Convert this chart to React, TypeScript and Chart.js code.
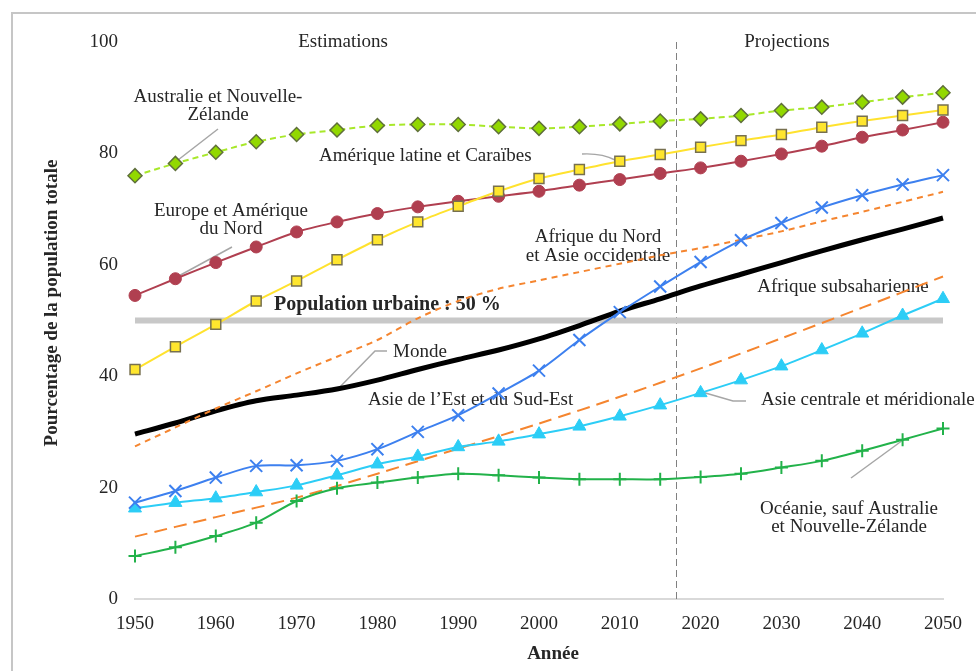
import React, { useEffect, useRef } from "react";
import { Chart, registerables } from "chart.js";

Chart.register(...registerables);

const years5 = [1950, 1955, 1960, 1965, 1970, 1975, 1980, 1985, 1990, 1995, 2000, 2005, 2010, 2015, 2020, 2025, 2030, 2035, 2040, 2045, 2050];
const years10 = [1950, 1960, 1970, 1980, 1990, 2000, 2010, 2020, 2030, 2040, 2050];

const australieNZ = [76.0, 78.2, 80.2, 82.1, 83.4, 84.2, 85.0, 85.2, 85.2, 84.8, 84.5, 84.8, 85.3, 85.8, 86.2, 86.8, 87.7, 88.3, 89.2, 90.1, 90.9];
const ameriqueLatine = [41.2, 45.3, 49.3, 53.5, 57.1, 60.9, 64.5, 67.7, 70.5, 73.2, 75.5, 77.1, 78.6, 79.8, 81.1, 82.3, 83.4, 84.7, 85.8, 86.8, 87.8];
const europeAmNord = [54.5, 57.5, 60.4, 63.2, 65.9, 67.7, 69.2, 70.4, 71.4, 72.3, 73.2, 74.3, 75.3, 76.4, 77.4, 78.6, 79.9, 81.3, 82.9, 84.2, 85.6];
const monde = [29.6, 31.6, 33.8, 35.6, 36.6, 37.7, 39.3, 41.2, 43.0, 44.7, 46.7, 49.1, 51.7, 53.9, 56.2, 58.3, 60.4, 62.5, 64.5, 66.4, 68.4];
const asieEstSudEst = [17.3, 19.4, 21.8, 23.9, 24.0, 24.8, 26.9, 30.0, 33.0, 36.9, 41.0, 46.5, 51.5, 56.1, 60.5, 64.4, 67.5, 70.3, 72.5, 74.4, 76.1];
const asieCentraleMerid = [16.3, 17.3, 18.1, 19.2, 20.4, 22.2, 24.2, 25.6, 27.3, 28.3, 29.6, 31.0, 32.8, 34.8, 37.0, 39.3, 41.8, 44.7, 47.7, 50.9, 53.9];
const afriqueNordAsieOcc = [27.4, 30.8, 34.2, 37.3, 40.5, 43.5, 46.5, 50.4, 53.5, 55.7, 57.2, 58.7, 60.2, 61.7, 63.0, 64.5, 66.0, 67.8, 69.5, 71.3, 73.1];
const afriqueSubsaharienne = [11.2, 14.7, 18.2, 22.5, 27.0, 31.5, 36.3, 41.4, 46.8, 52.3, 57.9];
const oceanieSaufAusNZ = [7.7, 9.3, 11.3, 13.7, 17.6, 19.9, 20.9, 21.8, 22.5, 22.2, 21.8, 21.5, 21.5, 21.5, 21.9, 22.5, 23.6, 24.8, 26.6, 28.6, 30.6];
const seuilYears = [1950, 2050];
const seuilValues = [50, 50];

const xTicks = [1950, 1960, 1970, 1980, 1990, 2000, 2010, 2020, 2030, 2040, 2050];
const yTicks = [0, 20, 40, 60, 80, 100];
const anneeProjection = 2017;

const toXY = (xs: number[], ys: number[]) => xs.map((x, i) => ({ x, y: ys[i] }));

const SERIF = '"Liberation Serif", "Times New Roman", serif';

const annotPlugin = {
  id: "annot",
  beforeDatasetsDraw(chart: any) {
    const { ctx, scales } = chart;
    const x = scales.x;
    const y = scales.y;
    ctx.save();
    // outer frame
    ctx.strokeStyle = "#c6c6c6";
    ctx.lineWidth = 2;
    ctx.strokeRect(12, 13, 1200, 1200);

    // projection divider
    const xv = Math.round(x.getPixelForValue(anneeProjection)) + 0.5;
    ctx.strokeStyle = "#808080";
    ctx.lineWidth = 1;
    ctx.setLineDash([7, 4]);
    ctx.beginPath();
    ctx.moveTo(xv, y.getPixelForValue(100));
    ctx.lineTo(xv, y.getPixelForValue(0));
    ctx.stroke();
    ctx.setLineDash([]);

    // leader lines
    ctx.strokeStyle = "#a6a6a6";
    ctx.lineWidth = 1.5;
    const poly = (pts: number[][]) => {
      ctx.beginPath();
      ctx.moveTo(pts[0][0], pts[0][1]);
      for (let i = 1; i < pts.length; i++) ctx.lineTo(pts[i][0], pts[i][1]);
      ctx.stroke();
    };
    poly([[218, 129], [178, 160]]);
    poly([[232, 247], [175, 278]]);
    poly([[387, 351], [375, 351], [337, 390]]);
    poly([[702, 392], [733, 401], [746, 401]]);
    poly([[851, 478], [903, 440]]);
    ctx.beginPath();
    ctx.moveTo(582, 154);
    ctx.quadraticCurveTo(602, 153, 615, 160);
    ctx.stroke();

    // texts
    ctx.fillStyle = "#262626";
    ctx.textBaseline = "middle";
    const txt = (s: string, px: number, py: number, align: CanvasTextAlign, bold = false, size = 19) => {
      ctx.font = `${bold ? "bold " : ""}${size}px ${SERIF}`;
      ctx.textAlign = align;
      ctx.fillText(s, px, py);
    };
    txt("Estimations", 343, 42, "center");
    txt("Projections", 787, 42, "center");
    txt("Australie et Nouvelle-", 218, 97, "center");
    txt("Zélande", 218, 115, "center");
    txt("Amérique latine et Caraïbes", 319, 156, "left");
    txt("Europe et Amérique", 231, 211, "center");
    txt("du Nord", 231, 229, "center");
    txt("Population urbaine : 50 %", 274, 305, "left", true, 20);
    txt("Afrique du Nord", 598, 237, "center");
    txt("et Asie occidentale", 598, 256, "center");
    txt("Afrique subsaharienne", 843, 287, "center");
    txt("Monde", 393, 352, "left");
    txt("Asie de l’Est et du Sud-Est", 368, 400, "left");
    txt("Asie centrale et méridionale", 761, 400, "left");
    txt("Océanie, sauf Australie", 849, 509, "center");
    txt("et Nouvelle-Zélande", 849, 527, "center");
    txt("Année", 553, 654, "center", true);
    ctx.save();
    ctx.translate(52, 303);
    ctx.rotate(-Math.PI / 2);
    txt("Pourcentage de la population totale", 0, 0, "center", true);
    ctx.restore();
    ctx.restore();
  },
};

export default function App() {
  const ref = useRef<HTMLCanvasElement | null>(null);
  useEffect(() => {
    if (!ref.current) return;
    const lineBase = { pointHoverRadius: 0, tension: 0.3, fill: false, clip: false };
    const chart = new Chart(ref.current, {
      type: "line",
      data: {
        datasets: [
          {
            ...lineBase,
            label: "Australie et Nouvelle-Zélande",
            data: toXY(years5, australieNZ),
            borderColor: "#a8e82a",
            borderWidth: 2,
            borderDash: [6, 4],
            pointStyle: "rectRot",
            pointRadius: 7,
            pointBackgroundColor: "#92d800",
            pointBorderColor: "#5f6f3a",
            pointBorderWidth: 1.5,
          },
          {
            ...lineBase,
            label: "Amérique latine et Caraïbes",
            data: toXY(years5, ameriqueLatine),
            borderColor: "#ffe22e",
            borderWidth: 2,
            pointStyle: "rect",
            pointRadius: 7,
            pointBackgroundColor: "#ffe62e",
            pointBorderColor: "#77704f",
            pointBorderWidth: 1.5,
          },
          {
            ...lineBase,
            label: "Europe et Amérique du Nord",
            data: toXY(years5, europeAmNord),
            borderColor: "#b03f50",
            borderWidth: 2,
            pointStyle: "circle",
            pointRadius: 6,
            pointBackgroundColor: "#b03f50",
            pointBorderColor: "#b03f50",
            pointBorderWidth: 1,
          },
          {
            ...lineBase,
            label: "Asie de l’Est et du Sud-Est",
            data: toXY(years5, asieEstSudEst),
            borderColor: "#3d80ef",
            borderWidth: 2,
            pointStyle: "crossRot",
            pointRadius: 8.5,
            pointBorderColor: "#3d80ef",
            pointBorderWidth: 2,
          },
          {
            ...lineBase,
            label: "Asie centrale et méridionale",
            data: toXY(years5, asieCentraleMerid),
            borderColor: "#2ccdf6",
            borderWidth: 2,
            pointStyle: "triangle",
            pointRadius: 7.5,
            pointBackgroundColor: "#2ccdf6",
            pointBorderColor: "#2ccdf6",
            pointBorderWidth: 1,
          },
          {
            ...lineBase,
            label: "Océanie, sauf Australie et Nouvelle-Zélande",
            data: toXY(years5, oceanieSaufAusNZ),
            borderColor: "#22b24a",
            borderWidth: 2,
            pointStyle: "cross",
            pointRadius: 6.5,
            pointBorderColor: "#22b24a",
            pointBorderWidth: 2,
          },
          {
            ...lineBase,
            label: "Afrique du Nord et Asie occidentale",
            data: toXY(years5, afriqueNordAsieOcc),
            borderColor: "#f5852f",
            borderWidth: 2,
            borderDash: [6, 5],
            pointRadius: 0,
          },
          {
            ...lineBase,
            label: "Afrique subsaharienne",
            data: toXY(years10, afriqueSubsaharienne),
            borderColor: "#f5852f",
            borderWidth: 2,
            borderDash: [13, 7],
            pointRadius: 0,
          },
          {
            ...lineBase,
            label: "Monde",
            data: toXY(years5, monde),
            borderColor: "#000000",
            borderWidth: 5,
            pointRadius: 0,
          },
          {
            label: "Population urbaine : 50 %",
            data: toXY(seuilYears, seuilValues),
            borderColor: "#c8c8c8",
            borderWidth: 6,
            pointRadius: 0,
            tension: 0,
            order: 100,
            clip: false,
          },
        ] as any,
      },
      options: {
        animation: false,
        responsive: false,
        maintainAspectRatio: false,
        events: [],
        layout: { padding: { top: 42, right: 31, left: 0, bottom: 0 } },
        plugins: {
          legend: { display: false },
          tooltip: { enabled: false },
          title: { display: false },
        },
        scales: {
          x: {
            type: "linear",
            min: 1950,
            max: 2050,
            afterFit: (s: any) => {
              s.height = 72;
            },
            afterBuildTicks: (s: any) => {
              s.ticks = xTicks.map((v) => ({ value: v }));
            },
            grid: { display: false, drawTicks: false },
            border: { display: true, color: "#d9d9d9", width: 2 },
            ticks: {
              padding: 14,
              color: "#262626",
              font: { family: SERIF, size: 19 },
              maxRotation: 0,
              autoSkip: false,
              callback: (v: any) => String(v),
            },
          },
          y: {
            type: "linear",
            min: 0,
            max: 100,
            afterFit: (s: any) => {
              s.width = 135;
            },
            afterBuildTicks: (s: any) => {
              s.ticks = yTicks.map((v) => ({ value: v }));
            },
            grid: { display: false, drawTicks: false },
            border: { display: false },
            ticks: {
              padding: 17,
              color: "#262626",
              font: { family: SERIF, size: 19 },
              callback: (v: any) => String(v),
            },
          },
        },
      },
      plugins: [annotPlugin],
    });
    return () => chart.destroy();
  }, []);

  return (
    <div style={{ position: "fixed", left: 0, top: 0, width: 976, height: 671, overflow: "hidden", background: "#ffffff" }}>
      <canvas ref={ref} width={976} height={671} style={{ display: "block", width: 976, height: 671 }} />
    </div>
  );
}
